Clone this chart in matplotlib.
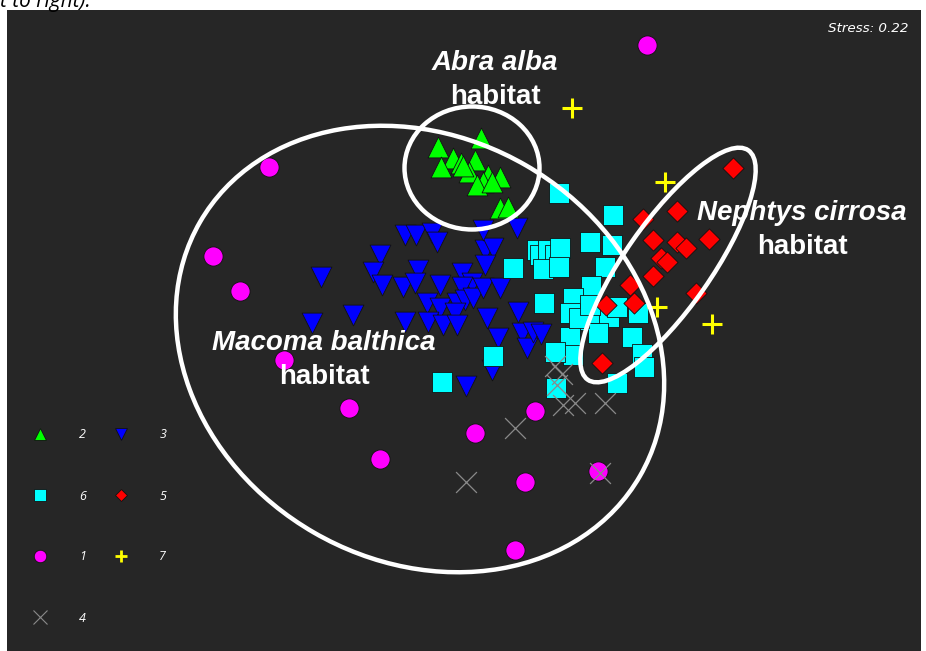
import matplotlib
matplotlib.use("Agg")
import matplotlib.pyplot as plt
from matplotlib.patches import Ellipse
from matplotlib.lines import Line2D

# Ordination scores per group (plot units, y increases downward)
g1_x = [647, 269, 213, 240, 284, 349, 475, 535, 380, 525, 598, 515]
g1_y = [45, 167, 256, 291, 360, 408, 433, 411, 459, 482, 471, 550]

g2_x = [481, 438, 453, 441, 461, 475, 469, 488, 500, 483, 477, 492, 500, 508, 463]
g2_y = [138, 147, 158, 167, 163, 160, 172, 175, 177, 182, 185, 182, 208, 207, 166]

g3_x = [321, 380, 373, 382, 405, 416, 432, 437, 418, 403, 415, 440, 427, 440,
        462, 472, 462, 457, 465, 473, 483, 500, 485, 493, 485, 483, 517, 312,
        353, 405, 428, 443, 455, 457, 487, 518, 498, 522, 527, 533, 492, 466, 541]
g3_y = [277, 255, 272, 285, 235, 235, 233, 242, 270, 287, 283, 285, 303, 308,
        273, 283, 287, 303, 300, 298, 288, 288, 250, 248, 265, 230, 228, 323,
        315, 322, 322, 325, 313, 325, 318, 312, 338, 333, 348, 332, 370, 386, 334]

g4_x = [555, 562, 557, 563, 575, 605, 515, 466, 600]
g4_y = [366, 374, 385, 405, 403, 403, 428, 482, 473]

g5_x = [733, 677, 643, 653, 677, 686, 709, 661, 667, 653, 630, 696, 606, 634, 602]
g5_y = [168, 211, 219, 240, 242, 248, 239, 258, 262, 276, 285, 293, 305, 303, 363]

g6_x = [559, 613, 590, 612, 605, 537, 540, 548, 555, 560, 513, 543, 559, 591,
        544, 573, 570, 583, 597, 609, 617, 638, 598, 570, 632, 573, 555, 642,
        644, 617, 556, 493, 442, 579, 590]
g6_y = [193, 215, 242, 245, 267, 250, 255, 250, 255, 248, 268, 269, 267, 286,
        303, 298, 313, 320, 313, 317, 307, 313, 333, 337, 337, 355, 352, 354,
        367, 383, 388, 356, 382, 318, 305]

g7_x = [572, 665, 657, 712]
g7_y = [108, 182, 307, 324]

# Habitat envelopes: centre x, centre y, width, height, angle
hab_names = ["Macoma balthica", "Abra alba", "Nephtys cirrosa"]
hab_cx = [420, 472, 668]
hab_cy = [349, 168, 265]
hab_w = [508, 135, 280]
hab_h = [424, 123, 86]
hab_ang = [30, 0, -55]
# Label anchor (centre x, baseline y of first line)
lab_x = [324, 495, 802]
lab_y = [350, 70, 220]

stress_text = "Stress: 0.22"

BG = "#262626"
fig = plt.figure(figsize=(9.26, 6.51), dpi=100, facecolor="white")
ax = fig.add_axes([7 / 926, 0, 914 / 926, 641 / 651])
ax.set_facecolor(BG)
ax.set_xlim(7, 921)
ax.set_ylim(651, 10)
ax.set_xticks([])
ax.set_yticks([])
for s in ax.spines.values():
    s.set_visible(False)

ek = dict(edgecolors="#111111", linewidths=0.6)
ax.scatter(g1_x, g1_y, s=13.8 ** 2, marker="o", c="#ff00ff", zorder=3, **ek)
ax.scatter(g3_x, g3_y, s=15.0 ** 2, marker="v", c="#0000ff", zorder=3, **ek)
ax.scatter(g2_x, g2_y, s=15.0 ** 2, marker="^", c="#00ff00", zorder=3, **ek)
ax.scatter(g6_x, g6_y, s=14.0 ** 2, marker="s", c="#00ffff", zorder=3, **ek)
ax.scatter(g5_x, g5_y, s=10.8 ** 2, marker="D", c="#ff0000", zorder=3, **ek)
ax.scatter(g7_x, g7_y, s=14.5 ** 2, marker="+", c="#ffff00", linewidths=2.2, zorder=4)
ax.scatter(g4_x, g4_y, s=15.0 ** 2, marker="x", c="#8a8a8a", linewidths=0.9, zorder=4)

for cx, cy, w, h, a in zip(hab_cx, hab_cy, hab_w, hab_h, hab_ang):
    ax.add_patch(Ellipse((cx, cy), w, h, angle=a, fill=False,
                         edgecolor="white", linewidth=3.2, zorder=5))

for name, x, y in zip(hab_names, lab_x, lab_y):
    ax.text(x, y, name, ha="center", va="baseline", color="white",
            fontsize=20, fontweight="bold", fontstyle="italic",
            family="Liberation Sans", zorder=6)
    ax.text(x, y + 34, "habitat", ha="center", va="baseline", color="white",
            fontsize=20, fontweight="bold", family="Liberation Sans", zorder=6)

ax.text(909, 29, stress_text, ha="right", va="center", color="white",
        fontsize=9.7, fontstyle="italic", family="DejaVu Sans")

# Legend with compact proxy markers
def proxy(marker, color, size, mew=0.6, mec="#111111"):
    return Line2D([], [], linestyle="none", marker=marker, markersize=size,
                  markerfacecolor=color, markeredgecolor=mec, markeredgewidth=mew)

handles = [
    proxy("^", "#00ff00", 8.5),
    proxy("s", "#00ffff", 8.5),
    proxy("o", "#ff00ff", 9),
    proxy("x", "#8a8a8a", 10.5, mew=0.8, mec="#8a8a8a"),
    proxy("v", "#0000ff", 8.5),
    proxy("D", "#ff0000", 6.2),
    proxy("+", "#ffff00", 9, mew=2.0, mec="#ffff00"),
]
labels = ["2", "6", "1", "4", "3", "5", "7"]
leg = ax.legend(handles, labels, ncol=2, loc="upper left",
                bbox_to_anchor=(33.75 / 926, 1 - 428.5 / 651),
                bbox_transform=fig.transFigure, frameon=False,
                borderpad=0, borderaxespad=0, handlelength=1.0,
                handletextpad=2.6, columnspacing=2.3, labelspacing=3.84,
                prop=dict(family="Open Sans", style="italic", size=9))
for t in leg.get_texts():
    t.set_color("white")

fig.text(0.0, 1 - 7 / 651, "t to right).", ha="left", va="baseline",
         fontsize=15, fontstyle="italic", family="Open Sans", color="black")

fig.savefig("out.png", dpi=100, facecolor="white")
